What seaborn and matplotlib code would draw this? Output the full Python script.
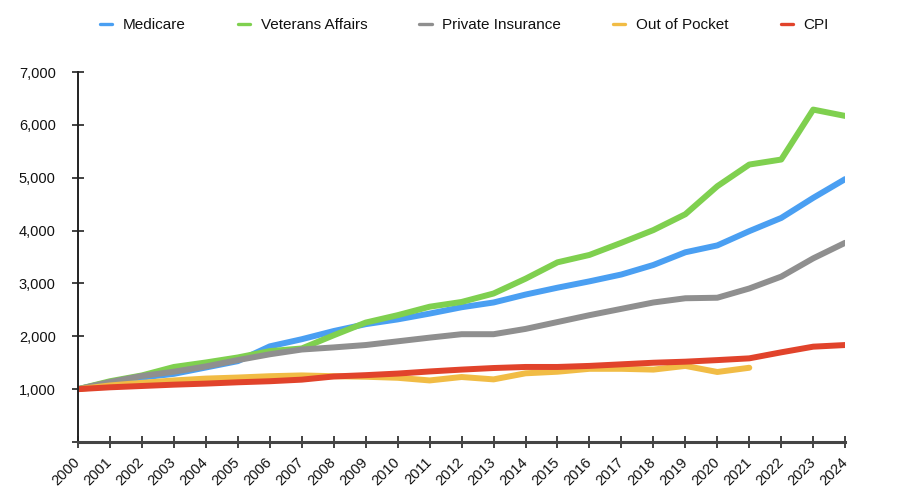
import pandas as pd
import seaborn as sns
import matplotlib.pyplot as plt

years = list(range(2000, 2025))

medicare = [1000, 1130, 1220, 1290, 1410, 1530, 1810, 1945, 2100, 2230, 2320, 2430, 2550, 2640,
            2790, 2920, 3040, 3170, 3350, 3590, 3720, 3990, 4240, 4620, 4975]
veterans = [1000, 1150, 1260, 1420, 1505, 1600, 1720, 1770, 2020, 2260, 2400, 2560, 2650, 2810,
            3090, 3400, 3540, 3770, 4010, 4310, 4840, 5250, 5345, 6290, 6170]
private = [1000, 1135, 1250, 1330, 1430, 1550, 1660, 1750, 1790, 1835, 1905, 1975, 2040, 2040,
           2140, 2270, 2400, 2520, 2640, 2720, 2730, 2905, 3130, 3475, 3770]
out_of_pocket = [1000, 1070, 1120, 1165, 1200, 1220, 1245, 1260, 1245, 1235, 1215, 1165, 1230, 1185,
                 1300, 1330, 1385, 1385, 1370, 1440, 1325, 1405]
cpi = [1000, 1035, 1060, 1085, 1105, 1130, 1150, 1180, 1240, 1265, 1295, 1335, 1370, 1400,
       1420, 1420, 1440, 1470, 1500, 1520, 1550, 1583, 1697, 1804, 1835]

series = {
    "Medicare": medicare,
    "Veterans Affairs": veterans,
    "Private Insurance": private,
    "Out of Pocket": out_of_pocket,
    "CPI": cpi,
}
colors = ["#4A9FF2", "#7FD04F", "#8F8F8F", "#F1BC45", "#E1432B"]

rows = []
for name, vals in series.items():
    for yr, v in zip(years, vals):
        rows.append({"Year": yr, "Value": v, "Series": name})
df = pd.DataFrame(rows)

sns.set_style("white")
plt.rcParams["font.family"] = ["Liberation Sans", "DejaVu Sans"]

fig = plt.figure(figsize=(9.02, 5.04), dpi=100)
ax = fig.add_axes([0.0865, 0.123, 0.8505, 0.734])

sns.lineplot(data=df, x="Year", y="Value", hue="Series", hue_order=list(series.keys()),
             palette=colors, linewidth=4.3, ax=ax, legend=True)

ax.set_xlim(2000, 2024)
ax.set_ylim(0, 7000)
ax.set_xticks(years)
ax.set_xticklabels([str(y) for y in years], rotation=45, ha="right", va="center",
                   rotation_mode="anchor", fontsize=10.5, color="#111111")
ax.set_yticks(range(0, 7001, 1000))
ax.set_yticklabels([""] + [f"{v:,}" for v in range(1000, 7001, 1000)], fontsize=10.5,
                   color="#111111")
ax.set_xlabel("")
ax.set_ylabel("")

sns.despine(ax=ax)
ax.spines["left"].set_color("#222222")
ax.spines["left"].set_linewidth(1.4)
ax.spines["bottom"].set_color("#444444")
ax.spines["bottom"].set_linewidth(2.2)
ax.tick_params(axis="both", which="major", bottom=True, left=True, direction="inout",
               length=8, width=1.2, color="#222222")
ax.tick_params(axis="y", pad=12)
ax.tick_params(axis="x", pad=9)

handles, labels = ax.get_legend_handles_labels()
ax.get_legend().remove()
leg = fig.legend(handles, labels, loc="center", bbox_to_anchor=(0.515, 0.95), ncol=5,
                 frameon=False, fontsize=11, handlelength=0.8, columnspacing=3.4,
                 handletextpad=0.7)
for line in leg.get_lines():
    line.set_linewidth(2.4)
for text in leg.get_texts():
    text.set_color("#111111")

fig.savefig("out.png", dpi=100)
